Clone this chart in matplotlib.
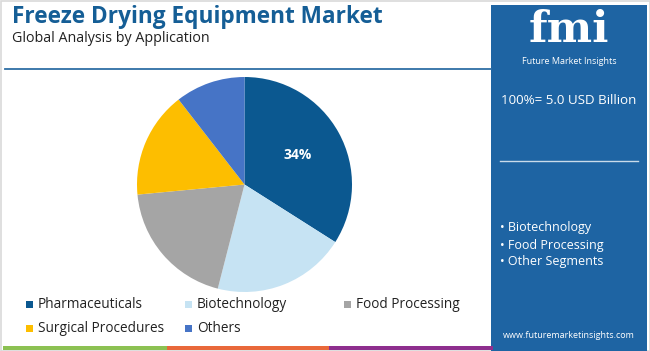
import matplotlib
matplotlib.use("Agg")
import matplotlib.pyplot as plt
from matplotlib.patches import Rectangle

categories = ["Pharmaceuticals", "Biotechnology", "Food Processing", "Surgical Procedures", "Others"]
shares = [34, 20, 19.5, 16, 10.5]
colors = ["#0b5890", "#c6e3f3", "#a5a5a5", "#fdbe00", "#4674c6"]
shown_labels = ["34%", "", "", "", ""]
panel_bullets = ["Biotechnology", "Food Processing", "Other Segments"]
title = "Freeze Drying Equipment Market"
subtitle = "Global Analysis by Application"
total_text = "100%= 5.0 USD Billion"

W, H = 650, 351
plt.rcParams['font.family'] = ['Open Sans', 'DejaVu Sans']
fig = plt.figure(figsize=(W / 100, H / 100), dpi=100)
fig.patch.set_facecolor("white")

bg = fig.add_axes([0, 0, 1, 1])
bg.set_xlim(0, W)
bg.set_ylim(H, 0)
bg.axis("off")

# border
bg.add_patch(Rectangle((0.5, 0.5), W - 1, H - 1, fill=False, ec="#d9d9d9", lw=1.2))

# title
bg.text(12, 17, title, fontsize=16.3, fontweight="bold", color="#155e96", va="center", ha="left")
bg.text(12, 39, subtitle, fontsize=10.3, color="#222222", va="center", ha="left")
bg.plot([5, 491], [69, 69], color="#2e6ea5", lw=1.3)

# right panel
bg.add_patch(Rectangle((491, 5), 156, H - 5, color="#1e64a3", lw=0))
bg.text(569, 30, "fmi", fontsize=31, fontweight="bold", family="DejaVu Serif", color="white",
        ha="center", va="center")
bg.text(569, 61, "Future Market Insights", fontsize=6.5, color="white", ha="center", va="center")
bg.text(569, 101, total_text, fontsize=9.6, color="white", ha="center", va="center")
bg.plot([500, 638], [161, 161], color="#c9dbea", lw=1)
for i, b in enumerate(panel_bullets):
    bg.text(500, 228 + i * 17, "\u2022 " + b, fontsize=9, color="white", ha="left", va="center")
bg.text(569, 335, "www.futuremarketinsights.com", fontsize=6.5, color="white", ha="center", va="center")

# bottom stripes
for x0, x1, c in [(3, 167, "#8cc152"), (167, 329, "#e9683a"), (329, 493, "#8e2e8e")]:
    bg.add_patch(Rectangle((x0, 346), x1 - x0, 3.5, color=c, lw=0))

# legend
leg_x = [26, 185, 344]
leg_y = [304, 328]
for i, (cat, col) in enumerate(zip(categories, colors)):
    r, c = divmod(i, 3)
    x, y = leg_x[c], leg_y[r]
    bg.add_patch(Rectangle((x, y - 3.5), 7, 7, color=col, lw=0))
    bg.text(x + 12, y, cat, fontsize=9.8, color="#222222", ha="left", va="center")

# pie
cx, cy, rad = 244.5, 184.5, 107.5
ax = fig.add_axes([(cx - rad) / W, (H - cy - rad) / H, 2 * rad / W, 2 * rad / H])
wedges, texts = ax.pie(shares, colors=colors, startangle=90, counterclock=False,
                       labels=shown_labels, labeldistance=0.56,
                       wedgeprops=dict(linewidth=0),
                       textprops=dict(color="white", fontsize=10, fontweight="bold"))
for t in texts:
    t.set_ha("center")
    t.set_va("center")
ax.set_xlim(-1, 1)
ax.set_ylim(-1, 1)
ax.set_aspect("equal")

fig.savefig("out.png", dpi=100, facecolor="white")
